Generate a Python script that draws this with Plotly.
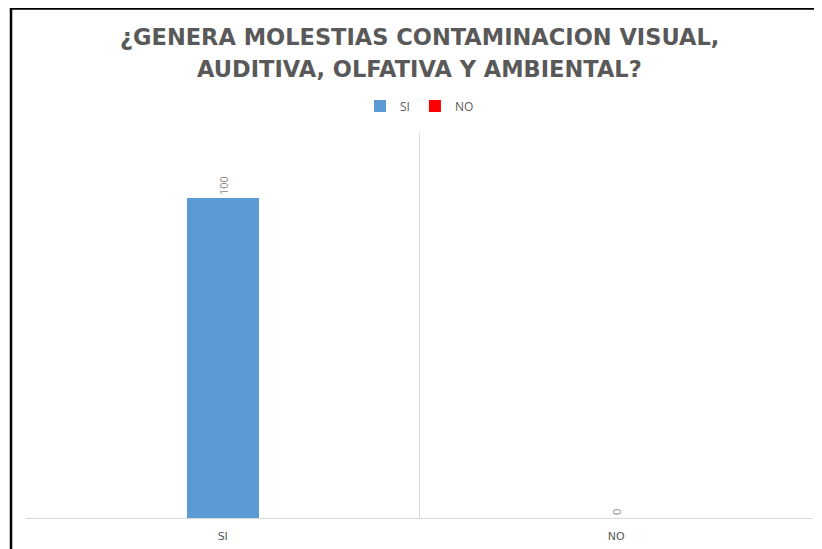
import plotly.graph_objects as go

categories = ["SI", "NO"]
si_values = [100]
no_values = [0]
series_names = ["SI", "NO"]
title_lines = ["¿GENERA MOLESTIAS CONTAMINACION VISUAL,", "AUDITIVA, OLFATIVA Y AMBIENTAL?"]

# the page body has an 8px margin, so the figure is drawn 8px in from the window corner
OFF = 8
W, H = 822 - OFF, 549 - OFF
ml, mr, mt, mb = 26 - OFF, 822 - 813, 133 - OFF, 549 - 518
pw, ph = W - ml - mr, H - mt - mb

def px_x(px):
    return (px - OFF - ml) / pw

def px_y(py):
    return (H - mb - (py - OFF)) / ph

label_font = dict(size=11, color="#8c8c8c", family="Open Sans")

fig = go.Figure()
fig.add_trace(go.Bar(
    name=series_names[0], x=[categories[0]], y=si_values,
    marker=dict(color="#5B9BD5", line=dict(width=0)),
    width=0.183, text=[str(v) for v in si_values], textposition="outside",
    textangle=-90, textfont=label_font, cliponaxis=False,
))
fig.add_trace(go.Bar(
    name=series_names[1], x=[categories[1]], y=no_values,
    marker=dict(color="#FF0000", line=dict(width=0)),
    width=0.183, text=[str(v) for v in no_values], textposition="outside",
    textangle=-90, textfont=label_font, cliponaxis=False,
))

fig.update_layout(
    width=W, height=H,
    margin=dict(l=ml, r=mr, t=mt, b=mb, pad=0, autoexpand=False),
    paper_bgcolor="white", plot_bgcolor="white",
    barmode="overlay",
    legend=dict(orientation="h", x=0.5, xanchor="center", xref="paper",
                y=px_y(106), yanchor="middle",
                font=dict(family="Open Sans", size=12, color="#595959"),
                itemwidth=30, traceorder="normal"),
    showlegend=True,
    xaxis=dict(type="category", categoryorder="array", categoryarray=categories,
               range=[-0.5, 1.5], tickson="boundaries", showgrid=True,
               gridcolor="#d9d9d9", gridwidth=1, showline=True, linecolor="#d9d9d9",
               linewidth=1, ticks="", ticklabelstandoff=8,
               tickfont=dict(family="DejaVu Sans", size=11, color="#595959"),
               zeroline=False, fixedrange=True),
    yaxis=dict(range=[0, 120.3], showgrid=False, showticklabels=False, ticks="",
               zeroline=False, showline=False),
    bargap=0,
)

title_font = dict(family="DejaVu Sans", size=22.5, color="#595959", weight="bold")
for line, cy in zip(title_lines, [37, 69]):
    fig.add_annotation(text=line, xref="paper", yref="paper", x=0.5, y=px_y(cy),
                       xanchor="center", yanchor="middle", showarrow=False,
                       font=title_font)

# black border from the screenshot frame (left and top edges)
fig.add_shape(type="line", xref="paper", yref="paper",
              x0=px_x(11), x1=px_x(11), y0=px_y(8), y1=px_y(560),
              line=dict(color="black", width=2.5))
fig.add_shape(type="line", xref="paper", yref="paper",
              x0=px_x(10), x1=px_x(830), y0=px_y(8.6), y1=px_y(8.6),
              line=dict(color="black", width=2.5))

fig.write_html("out.html")
